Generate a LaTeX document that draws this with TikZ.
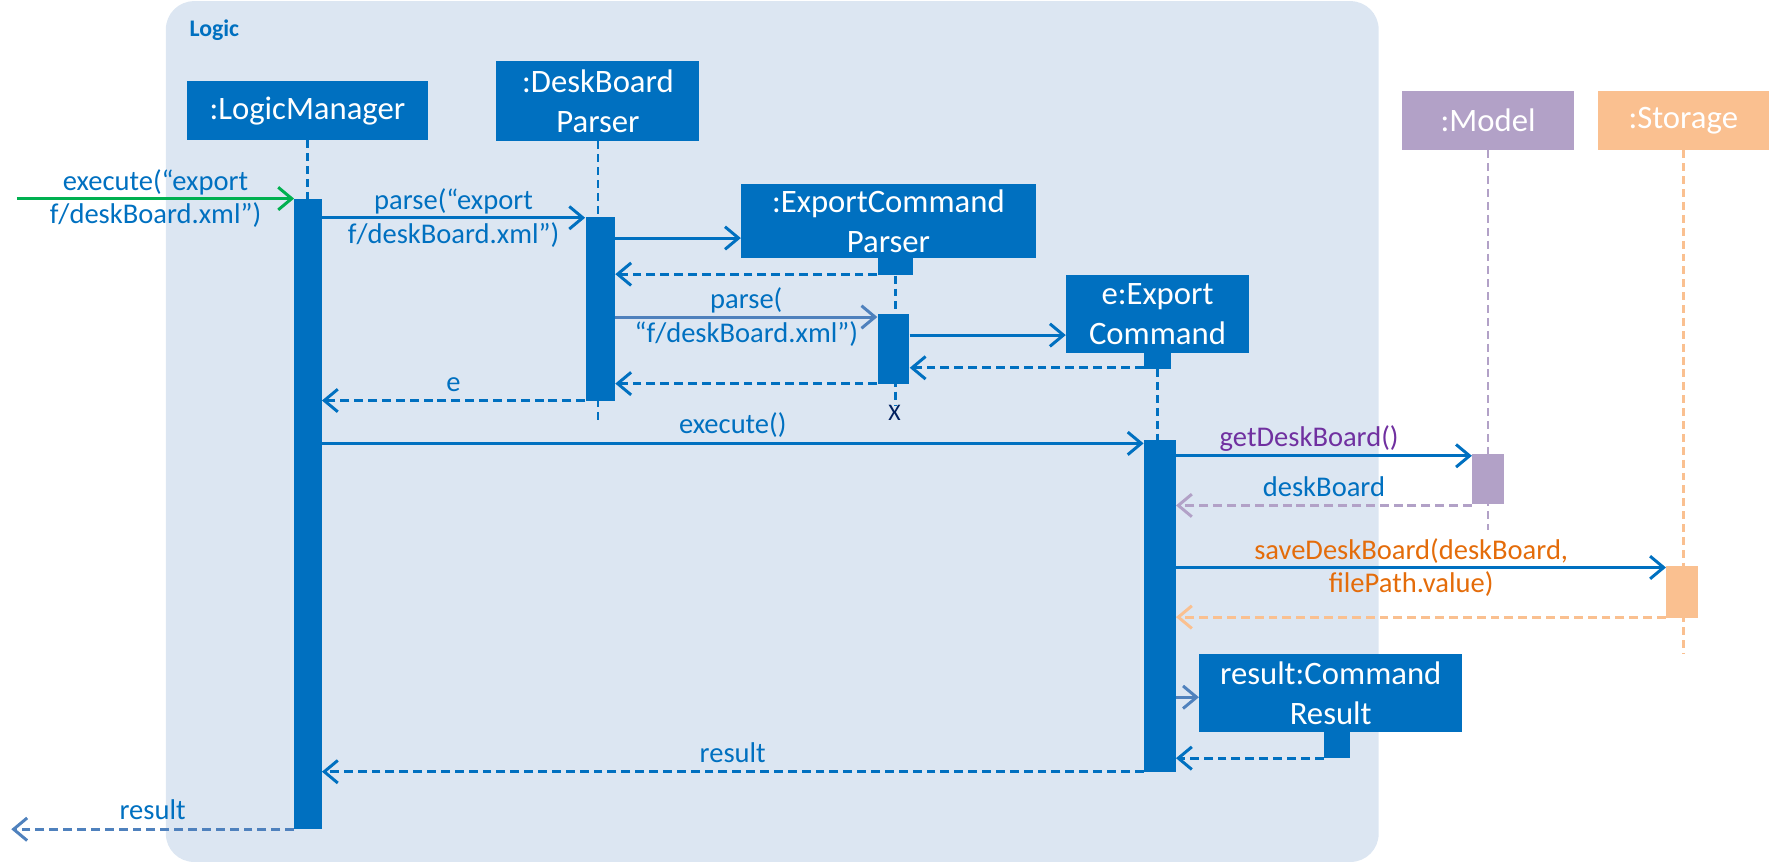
\documentclass[tikz,border=0pt]{standalone}
\usepackage{fontspec}
\setmainfont{Carlito}
\usepackage{tikz}
\usetikzlibrary{positioning, arrows.meta, calc}
\definecolor{lblue}{HTML}{0070C0}
\definecolor{sblue}{HTML}{4F81BD}
\definecolor{logicbg}{HTML}{DCE6F2}
\definecolor{mgreen}{HTML}{00B050}
\definecolor{modelc}{HTML}{B2A1C7}
\definecolor{storec}{HTML}{FAC090}
\definecolor{mpurple}{HTML}{7030A0}
\definecolor{morange}{HTML}{E46C0A}
\definecolor{xnavy}{HTML}{002060}

\begin{document}
\begin{tikzpicture}[x=0.02cm,y=-0.02cm,>={Straight Barb[length=2.4mm,width=4mm]},
  obj/.style={fill=lblue,text=white,align=center,inner sep=0pt,font=\fontsize{16.5}{20}\selectfont},
  act/.style={fill=lblue,inner sep=0pt,minimum width=0.52cm},
  life/.style={lblue,line width=1.3pt,dash pattern=on 4pt off 2.5pt},
  msg/.style={->,lblue,line width=1.5pt},
  ret/.style={msg,dash pattern=on 4.5pt off 2.5pt},
  lbl/.style={font=\fontsize{14.4}{17}\selectfont,text=lblue,inner sep=1pt,align=center},
  albl/.style={lbl,above,inner sep=1.5pt,text depth=2.5pt}]
  \useasboundingbox (0,0) rectangle (1568,765);
  \fill[logicbg,rounded corners=0.5cm] (147,1) rectangle (1222,764);
  \node[font=\fontsize{12}{14}\selectfont\bfseries,text=lblue] (logic) at (190,27) {Logic};

  \node[obj,minimum width=4.26cm,minimum height=1.04cm] (lm) at (272.5,98) {:LogicManager};
  \node[obj,minimum width=3.6cm,minimum height=1.42cm] (dbp) at (530,89.5) {:DeskBoard\\Parser};
  \node[obj,minimum width=5.22cm,minimum height=1.32cm] (ecp) at (787.5,196) {:ExportCommand\\Parser};
  \node[obj,minimum width=3.24cm,minimum height=1.38cm] (ec) at (1026,278.5) {e:Export\\Command};
  \node[obj,fill=modelc,minimum width=3.04cm,minimum height=1.04cm] (model) at (1319,107) {:Model};
  \node[obj,fill=storec,minimum width=3.04cm,minimum height=1.04cm] (store) at (1492,107) {:Storage};
  \node[obj,minimum width=4.66cm,minimum height=1.38cm] (cr) at (1179.5,614.5) {result:Command\\Result};

  \foreach \t/\y in {tIn/176,tParse/193,tNewP/211,tRetP/243,tParse2/281,tNewE/297,tRetE/326,
    tRetP2/340,tE/355,tExec/393,tGet/404,tDB/448,tSave/503,tSaveR/547,tNewR/618,tRetR/672,
    tRes/684,tOut/735,dbpEnd/372,ecpEnd/360,mEnd/470,sEnd/580}
    \coordinate (\t) at (0,\y);
  \coordinate (inSrc) at (15,176);
  \coordinate (outDst) at (10,735);

  \node[act,minimum width=0.62cm,minimum height=0.3cm] (ecpT) at (793.5,236.5) {};
  \node[act,minimum width=0.48cm,minimum height=0.28cm] (ecT) at (1026,320) {};
  \node[act,minimum width=0.46cm,minimum height=0.46cm] (crT) at (1185,660.5) {};

  \draw[life] (lm.south) -- (lm.south |- tIn);
  \draw[life] (dbp.south) -- (dbp.south |- dbpEnd);
  \draw[life] (ecpT.south) -- (ecpT.south |- ecpEnd);
  \draw[life] (ecT.south) -- (ecT.south |- tExec);
  \draw[life,modelc] (model.south) -- (model.south |- mEnd);
  \draw[life,storec] (store.south) -- (store.south |- sEnd);
  \node[text=xnavy,font=\fontsize{12}{14}\selectfont,inner sep=0pt] (ecpX) at (793,366) {X};

  \node[act,minimum width=0.48cm,minimum height=11.18cm] (lmA) at (273,455.5) {};
  \node[act,minimum height=3.26cm] (dbpA) at (532,273.5) {};
  \node[act,minimum width=0.56cm,minimum height=1.24cm] (ecpA) at (792,309) {};
  \node[act,minimum width=0.56cm,minimum height=5.88cm] (ecA) at (1028,537) {};
  \node[act,fill=modelc,minimum width=0.56cm,minimum height=0.9cm] (mA) at (1319,424.5) {};
  \node[act,fill=storec,minimum width=0.56cm,minimum height=0.92cm] (sA) at (1491,525) {};

  \draw[msg,mgreen] (inSrc) -- node[lbl]{execute(“export\\f/deskBoard.xml”)} (lmA.west |- tIn);
  \draw[msg] (lmA.east |- tParse) -- node[lbl]{parse(“export\\f/deskBoard.xml”)} (dbpA.west |- tParse);
  \draw[msg] (dbpA.east |- tNewP) -- (ecp.west |- tNewP);
  \draw[ret] (ecpT.west |- tRetP) -- (dbpA.east |- tRetP);
  \draw[msg,sblue] (dbpA.east |- tParse2) -- node[lbl]{parse(\\“f/deskBoard.xml”)} (ecpA.west |- tParse2);
  \draw[msg] (ecpA.east |- tNewE) -- (ec.west |- tNewE);
  \draw[ret] (ecT.west |- tRetE) -- (ecpA.east |- tRetE);
  \draw[ret] (ecpA.west |- tRetP2) -- (dbpA.east |- tRetP2);
  \draw[ret] (dbpA.west |- tE) -- node[albl]{e} (lmA.east |- tE);
  \draw[msg] (lmA.east |- tExec) -- node[albl]{execute()} (ecA.west |- tExec);
  \draw[msg] (ecA.east |- tGet) -- node[albl,text=mpurple,pos=0.45]{getDeskBoard()} (mA.west |- tGet);
  \draw[ret,modelc] (mA.west |- tDB) -- node[albl]{deskBoard} (ecA.east |- tDB);
  \draw[msg] (ecA.east |- tSave) -- node[lbl,text=morange,pos=0.48]{saveDeskBoard(deskBoard,\\filePath.value)} (sA.west |- tSave);
  \draw[ret,storec] (sA.west |- tSaveR) -- (ecA.east |- tSaveR);
  \draw[msg,sblue] (ecA.east |- tNewR) -- (cr.west |- tNewR);
  \draw[ret] (crT.west |- tRetR) -- (ecA.east |- tRetR);
  \draw[ret] (ecA.west |- tRes) -- node[albl]{result} (lmA.east |- tRes);
  \draw[ret,sblue] (lmA.west |- tOut) -- node[albl]{result} (outDst);
\end{tikzpicture}
\end{document}
